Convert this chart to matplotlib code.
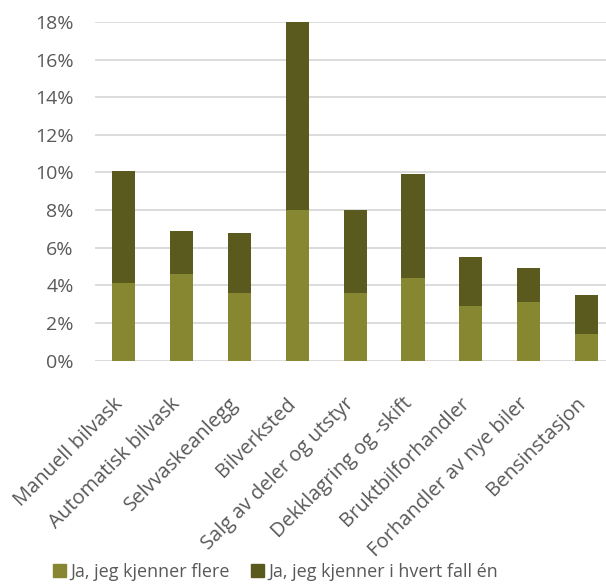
import matplotlib
matplotlib.use("Agg")
import matplotlib.pyplot as plt
from matplotlib.ticker import FuncFormatter
from matplotlib.patches import Patch
from matplotlib.transforms import ScaledTranslation

categories = ["Manuell bilvask", "Automatisk bilvask", "Selvvaskeanlegg", "Bilverksted",
              "Salg av deler og utstyr", "Dekklagring og -skift", "Bruktbilforhandler",
              "Forhandler av nye biler", "Bensinstasjon"]
flere = [4.1, 4.6, 3.6, 8.0, 3.6, 4.4, 2.9, 3.1, 1.4]
minst_en = [6.0, 2.3, 3.2, 10.0, 4.4, 5.5, 2.6, 1.8, 2.1]
series_names = ["Ja, jeg kjenner flere", "Ja, jeg kjenner i hvert fall én"]
yticks = [0, 2, 4, 6, 8, 10, 12, 14, 16, 18]

light = "#878731"
dark = "#5b5a1e"
txt = "#595959"

plt.rcParams['font.family'] = ['Open Sans', 'DejaVu Sans']

fig = plt.figure(figsize=(6.06, 5.85), dpi=100)
ax = fig.add_axes([94.6/606, (585-360.5)/585, 521/606, 338.5/585])

x = list(range(len(categories)))
ax.bar(x, flere, width=0.4, color=light, zorder=3)
ax.bar(x, minst_en, width=0.4, bottom=flere, color=dark, zorder=3)

ax.set_xlim(-0.5, len(categories) - 0.5)
ax.set_ylim(0, 18)
ax.set_yticks(yticks)
ax.yaxis.set_major_formatter(FuncFormatter(lambda v, p: f"{v:.0f}%"))
ax.grid(axis='y', color="#d9d9d9", linewidth=1.3, zorder=0)
ax.set_axisbelow(True)
for s in ax.spines.values():
    s.set_visible(False)
ax.tick_params(axis='y', length=0, colors=txt, labelsize=14, pad=15)
ax.set_xticks(x)
ax.set_xticklabels(categories, rotation=45, ha='right', va='center', rotation_mode='anchor')
ax.tick_params(axis='x', length=0, colors=txt, labelsize=14.5, pad=29)
shift = ScaledTranslation(-4/100, 0, fig.dpi_scale_trans)
for lab in ax.get_xticklabels():
    lab.set_transform(lab.get_transform() + shift)

handles = [Patch(color=light), Patch(color=dark)]
fig.legend(handles, series_names, loc='center', bbox_to_anchor=(0.455, 1 - 572/585),
           ncol=2, frameon=False, fontsize=13, labelcolor=txt, handlelength=0.7,
           handleheight=0.7, handletextpad=0.25, columnspacing=1.2)

fig.savefig("out.png", dpi=100)
